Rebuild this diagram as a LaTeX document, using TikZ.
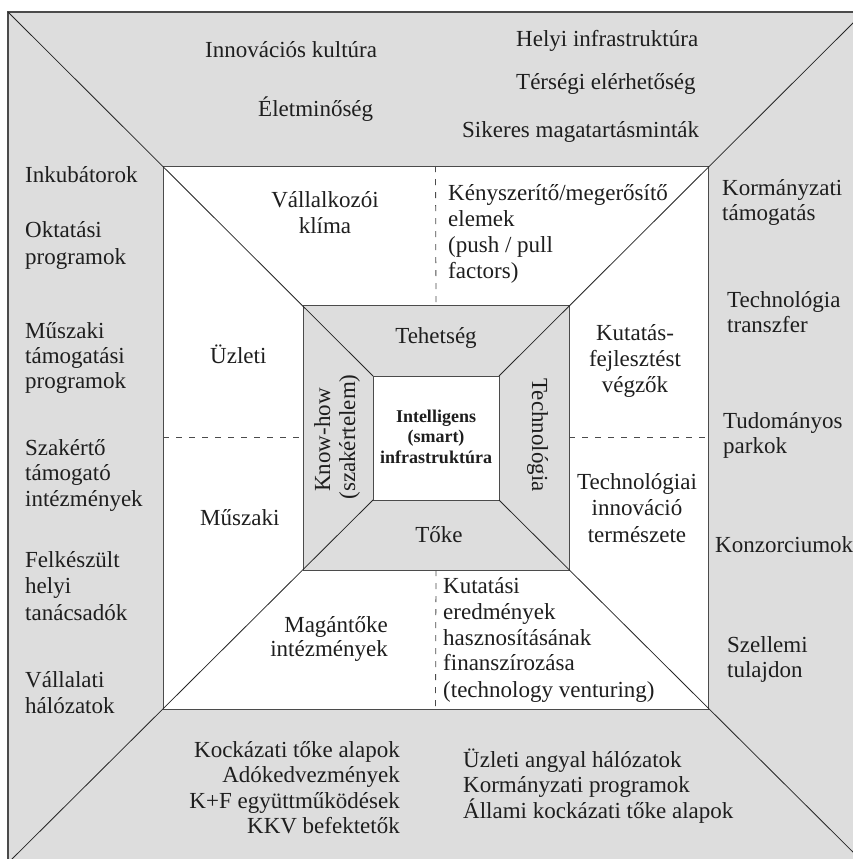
\documentclass[tikz,border=0pt]{standalone}
\usepackage{fontspec}
\setmainfont{Liberation Serif}
\definecolor{panel}{RGB}{221,221,221}
\definecolor{edge}{RGB}{75,75,75}
\definecolor{ink}{RGB}{30,30,30}
\begin{document}
\begin{tikzpicture}[x=1pt,y=-1pt,
  sq/.style={draw=edge, line width=1pt, inner sep=0pt, outer sep=0pt},
  diag/.style={draw=black!85, line width=0.8pt},
  sep/.style={draw=edge, line width=0.8pt, dash pattern=on 6pt off 7pt},
  txt/.style={inner sep=0pt, text=ink, font=\fontsize{23}{27}\selectfont, anchor=base},
  lft/.style={txt, anchor=base west},
  rgt/.style={txt, anchor=base east},
  core/.style={inner sep=0pt, text=ink, font=\fontsize{18}{20}\selectfont\bfseries, anchor=base}]
\useasboundingbox (0,0) rectangle (853,859);
\begin{scope}
\clip (0,0) rectangle (853,859);
% nested squares
\node[sq, fill=panel, line width=1.6pt, minimum width=856pt, minimum height=851pt] (outer) at (436,437.5) {};
\node[sq, fill=white, minimum width=545pt, minimum height=543pt] (mid) at (435.5,437.5) {};
\node[sq, fill=panel, minimum width=266pt, minimum height=265pt] (inner) at (436,437.5) {};
\node[sq, fill=white, minimum width=126pt, minimum height=124pt] (hub) at (436,438) {};
% corner diagonals
\draw[diag] (outer.north west) -- (hub.north west);
\draw[diag] (outer.north east) -- (hub.north east);
\draw[diag] (outer.south west) -- (hub.south west);
\draw[diag] (outer.south east) -- (hub.south east);
% dashed separators in the middle ring
\draw[sep] (mid.north) -- (inner.north);
\draw[sep] (inner.south) -- (mid.south);
\draw[sep] (mid.west) -- (inner.west);
\draw[sep] (inner.east) -- (mid.east);
\end{scope}

% top band
\node[lft] (innkult) at (205,58) {Innovációs kultúra};
\node[lft] (eletmin) at (258,116) {Életminőség};
\node[lft] (helyi) at (516,47) {Helyi infrastruktúra};
\node[lft] (tersegi) at (516,89) {Térségi elérhetőség};
\node[lft] (sikeres) at (462,137) {Sikeres magatartásminták};

% left band
\node[lft] (inkub) at (25,182) {Inkubátorok};
\node[lft] (okt1) at (25,237) {Oktatási};
\node[lft] (okt2) at (25,264) {programok};
\node[lft] (msz1) at (25,338) {Műszaki};
\node[lft] (msz2) at (25,363) {támogatási};
\node[lft] (msz3) at (25,388) {programok};
\node[lft] (szak1) at (25,455) {Szakértő};
\node[lft] (szak2) at (25,480) {támogató};
\node[lft] (szak3) at (25,506) {intézmények};
\node[lft] (felk1) at (25,567) {Felkészült};
\node[lft] (felk2) at (25,593) {helyi};
\node[lft] (felk3) at (25,620) {tanácsadók};
\node[lft] (vall1) at (25,687) {Vállalati};
\node[lft] (vall2) at (25,713) {hálózatok};

% right band
\node[lft] (korm1) at (722,195) {Kormányzati};
\node[lft] (korm2) at (722,220) {támogatás};
\node[lft] (tech1) at (727,307) {Technológia};
\node[lft] (tech2) at (727,332) {transzfer};
\node[lft] (tud1) at (723,428) {Tudományos};
\node[lft] (tud2) at (723,453) {parkok};
\node[lft] (konz) at (715,552) {Konzorciumok};
\node[lft] (szel1) at (727,652) {Szellemi};
\node[lft] (szel2) at (727,677) {tulajdon};

% bottom band
\node[rgt] (kock) at (400,757) {Kockázati tőke alapok};
\node[rgt] (ado) at (400,782) {Adókedvezmények};
\node[rgt] (kf) at (400,808) {K+F együttműködések};
\node[rgt] (kkv) at (400,833) {KKV befektetők};
\node[lft] (angyal) at (463,767) {Üzleti angyal hálózatok};
\node[lft] (kprog) at (463,792) {Kormányzati programok};
\node[lft] (allami) at (463,818) {Állami kockázati tőke alapok};

% middle ring
\node[txt] (vk1) at (325,207) {Vállalkozói};
\node[txt] (vk2) at (325,233) {klíma};
\node[lft] (uzleti) at (210,363) {Üzleti};
\node[lft] (muszaki) at (200,525) {Műszaki};
\node[rgt] (mag1) at (388,632) {Magántőke};
\node[rgt] (mag2) at (388,656) {intézmények};
\node[lft] (ke1) at (448,200) {Kényszerítő/megerősítő};
\node[lft] (ke2) at (448,226) {elemek};
\node[lft] (ke3) at (448,252) {(push / pull};
\node[lft] (ke4) at (448,278) {factors)};
\node[txt] (kf1) at (635,340) {Kutatás-};
\node[txt] (kf2) at (635,366) {fejlesztést};
\node[txt] (kf3) at (635,392) {végzők};
\node[txt] (ti1) at (637,489) {Technológiai};
\node[txt] (ti2) at (637,515) {innováció};
\node[txt] (ti3) at (637,542) {természete};
\node[lft] (ke5) at (443,593) {Kutatási};
\node[lft] (ke6) at (443,619) {eredmények};
\node[lft] (ke7) at (443,645) {hasznosításának};
\node[lft] (ke8) at (443,670) {finanszírozása};
\node[lft] (ke9) at (443,697) {(technology venturing)};

% inner ring
\node[txt] (tehet) at (436,343) {Tehetség};
\node[txt] (toke) at (439,542) {Tőke};
\node[txt, rotate=90] (know1) at (330,440) {Know-how};
\node[txt, rotate=90] (know2) at (355,437) {(szakértelem)};
\node[txt, rotate=-90] (techn) at (532,435) {Technológia};

% centre
\node[core] (c1) at (436,422) {Intelligens};
\node[core] (c2) at (436,442) {(smart)};
\node[core] (c3) at (436,463) {infrastruktúra};
\end{tikzpicture}
\end{document}
